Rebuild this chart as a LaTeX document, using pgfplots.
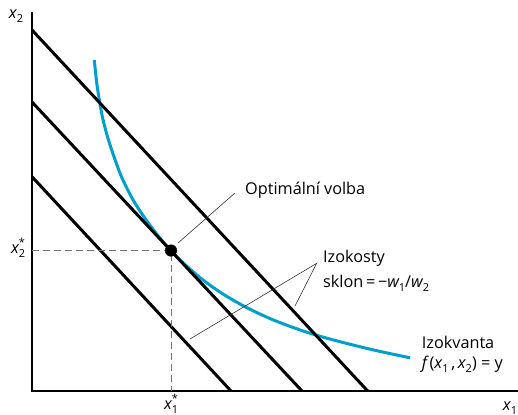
\documentclass[border=0pt]{standalone}
\usepackage{pgfplots}
\pgfplotsset{compat=1.18}
\usepackage{fontspec}
\setmainfont{Open Sans}
\definecolor{iso}{RGB}{0,158,204}
\newcommand{\lab}{\fontsize{16.3}{19}\selectfont}
\newcommand{\sbs}[1]{\raisebox{-0.45ex}{\fontsize{11}{11}\selectfont #1}}
\newcommand{\sps}[1]{\raisebox{0.75ex}{\fontsize{11}{11}\selectfont #1}}
\newcommand{\xstar}[1]{{\itshape x}\rlap{\sbs{#1}}\sps{*}}
\begin{document}
\begin{tikzpicture}
\begin{axis}[x=1bp, y=1bp, axis lines=none, xmin=0, xmax=486, ymin=0, ymax=379,
  clip=false, scale only axis]
% isoquant
\addplot[iso, line width=3bp, smooth] coordinates {
(62.3,331) (65,306) (70,276) (75,256) (80,240) (85,226) (90,213) (100,193)
(110,177) (120,163) (130,150.5) (139,140.2) (150,129.1) (170,111.8) (190,97.6)
(213,84.3) (240,71.6) (270,60.4) (300,51.4) (340,41.4) (378,33.2)};
% isocost lines
\addplot[black, line width=3bp] coordinates {(0,361) (335.7,0)};
\addplot[black, line width=3bp] coordinates {(0,289) (270,0)};
\addplot[black, line width=3bp] coordinates {(0,214.3) (199,0)};
% axes
\addplot[black, line width=1.8bp] coordinates {(0,379) (0,0) (486,0)};
% dashed guides
\addplot[black!55, line width=0.9bp, dash pattern=on 7bp off 4bp] coordinates {(0,141) (139,141) (139,0)};
% leaders
\addplot[black!80, line width=0.6bp] coordinates {(146,148) (203,198)};
\addplot[black!80, line width=0.6bp] coordinates {(158,52) (284.7,127.7) (263,85)};
% optimum
\addplot[only marks, mark=*, mark size=5.8bp, black] coordinates {(139,140.5)};
% labels
\node[anchor=center] at (axis cs:-16,375) {\lab{\itshape x}\sbs{2}};
\node[anchor=center] at (axis cs:478,-17) {\lab{\itshape x}\sbs{1}};
\node[anchor=center] at (axis cs:-14,143) {\lab\xstar{2}};
\node[anchor=center] at (axis cs:139,-13) {\lab\xstar{1}};
\node[anchor=west, inner sep=0pt] at (axis cs:213,201) {\lab Optimální volba};
\node[anchor=west, inner sep=0pt] at (axis cs:291,133) {\lab Izokosty};
\node[anchor=west, inner sep=0pt] at (axis cs:291,107.7) {\lab sklon\,=\,−{\itshape w}\sbs{1}/{\itshape w}\sbs{2}};
\node[anchor=west, inner sep=0pt] at (axis cs:389.7,48.3) {\lab Izokvanta};
\node[anchor=west, inner sep=0pt] at (axis cs:389.7,26.5) {\lab{\itshape f}\,({\itshape x}\sbs{1}\,,\,{\itshape x}\sbs{2}) = y};
\coordinate (bl) at (axis cs:-32,-23);
\coordinate (tr) at (axis cs:486,391);
\end{axis}
\pgfresetboundingbox
\path[use as bounding box] (bl) rectangle (tr);
\end{tikzpicture}
\end{document}
